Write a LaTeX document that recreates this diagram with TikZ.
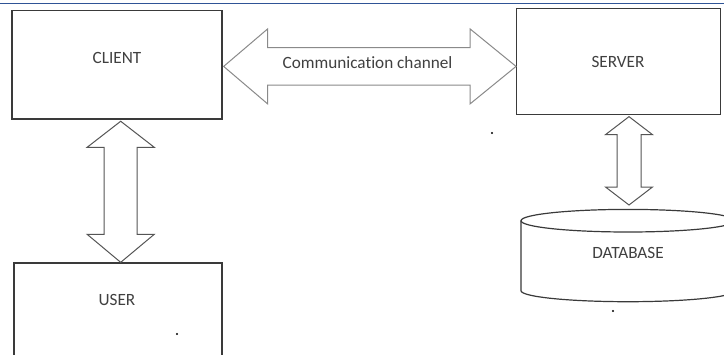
\documentclass[tikz,border=0pt]{standalone}
\usepackage{fontspec}
\setmainfont[Ligatures={NoCommon}]{Carlito}
\usetikzlibrary{calc}
\definecolor{boxline}{HTML}{3A3A3A}
\definecolor{arrline}{HTML}{8A8A8A}
\definecolor{varrline}{HTML}{555555}
\definecolor{txtcol}{HTML}{404040}
\definecolor{topblue}{HTML}{2F5496}
\tikzset{
  box/.style={draw=boxline, line width=0.65pt, fill=white, inner sep=0pt},
  arr/.style={draw=arrline, line width=0.5pt, fill=white, line join=miter},
  varr/.style={arr, draw=varrline},
  txt/.style={text=txtcol, font=\fontsize{8.6pt}{10pt}\selectfont, inner sep=0pt},
  dbline/.style={draw=boxline, line width=0.6pt, fill=white},
}
\begin{document}
\begin{tikzpicture}[x=0.5pt, y=0.5pt]
\useasboundingbox (0,0) rectangle (724,-354);
\clip (0,0) rectangle (724,-354);
\fill[white] (0,0) rectangle (724,-354);
% top rule
\draw[topblue, line width=0.7pt] (0,-3.3) -- (724,-3.3);

% boxes
\node[box, minimum width=105pt, minimum height=54.2pt] (client) at (117,-64.9) {};
\node[txt] (clientlbl) at (117,-57.5) {CLIENT};
\node[box, minimum width=102pt, minimum height=53.2pt] (server) at (618.7,-61.5) {};
\node[txt] (serverlbl) at (618,-62) {SERVER};
\node[box, minimum width=104pt, minimum height=52pt] (user) at (118,-315) {};
\node[txt] (userlbl) at (117,-300) {USER};

% database cylinder
\draw[dbline] (521,-220.7) -- (521,-290.7) arc[start angle=180, end angle=360, x radius=107, y radius=11] -- (735,-220.7);
\draw[dbline] (628,-220.7) ellipse [x radius=107, y radius=11.3];
\node[txt] (db) at (628,-253) {DATABASE};
\coordinate (dbtop) at (629,-209);

% horizontal double arrow (client <-> server)
\coordinate (L) at ($(client.east)+(1,-1.5)$);
\coordinate (R) at (L -| server.west);
\draw[arr] (L) -- ($(L)+(44,37.5)$) -- ($(L)+(44,18.8)$) -- ($(R)+(-46,18.8)$) -- ($(R)+(-46,37.5)$) -- (R)
  -- ($(R)+(-46,-37.5)$) -- ($(R)+(-46,-18.8)$) -- ($(L)+(44,-18.8)$) -- ($(L)+(44,-37.5)$) -- cycle;
\node[txt] (chan) at (367.5,-62.7) {Communication channel};

% vertical double arrow (client <-> user)
\coordinate (T1) at ($(client.south)+(3.7,-1.5)$);
\coordinate (B1) at (T1 |- user.north);
\draw[varr] (T1) -- ($(T1)+(33.5,-26)$) -- ($(T1)+(16.5,-26)$) -- ($(B1)+(16.5,28)$) -- ($(B1)+(33.5,28)$) -- (B1)
  -- ($(B1)+(-33.5,28)$) -- ($(B1)+(-16.5,28)$) -- ($(T1)+(-16.5,-26)$) -- ($(T1)+(-33.5,-26)$) -- cycle;

% vertical double arrow (server <-> database)
\coordinate (T2) at ($(server.south)+(10.3,-1.3)$);
\coordinate (B2) at ($(T2 |- dbtop)+(0,4)$);
\draw[varr] (T2) -- ($(T2)+(23.5,-18)$) -- ($(T2)+(12,-18)$) -- ($(B2)+(12,18)$) -- ($(B2)+(23.5,18)$) -- (B2)
  -- ($(B2)+(-23.5,18)$) -- ($(B2)+(-12,18)$) -- ($(T2)+(-12,-18)$) -- ($(T2)+(-23.5,-18)$) -- cycle;

% stray dots
\fill[black] (177,-334) circle (1.2);
\fill[black] (613,-311) circle (1.2);
\fill[black] (492,-133) circle (1.2);
\end{tikzpicture}
\end{document}
